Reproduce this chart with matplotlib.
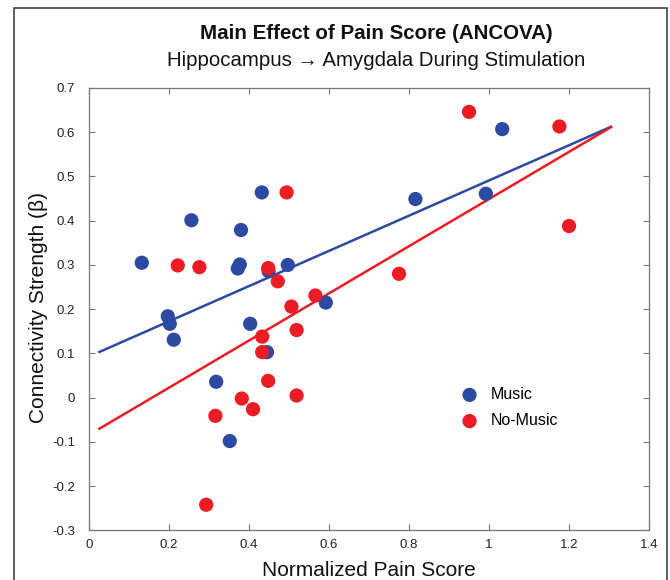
#==========================================
#   Efecto principal del dolor (ANCOVA)
#   Hipocampo -> Amigdala, estimulacion
#==========================================
import numpy as np
import matplotlib.pyplot as plt
from matplotlib.patches import Rectangle

plt.rcParams['font.family'] = ['Liberation Sans', 'DejaVu Sans']

#=======================
#   Datos: Music
#=======================
music_x = [0.132, 0.256, 0.432, 0.380, 0.377, 0.372, 0.497, 0.449, 0.592, 0.197,
           0.202, 0.403, 0.212, 0.445, 0.318, 0.352, 1.033, 0.816, 0.992]
music_y = [0.305, 0.401, 0.464, 0.379, 0.301, 0.292, 0.300, 0.286, 0.215, 0.184,
           0.167, 0.167, 0.131, 0.103, 0.036, -0.098, 0.607, 0.449, 0.461]

#=======================
#   Datos: No-Music
#=======================
nomusic_x = [0.494, 0.222, 0.276, 0.448, 0.472, 0.566, 0.506, 0.519, 0.433, 0.433,
             0.448, 0.519, 0.382, 0.410, 0.316, 0.293, 0.950, 1.176, 1.200, 0.775]
nomusic_y = [0.464, 0.299, 0.295, 0.293, 0.263, 0.231, 0.206, 0.153, 0.138, 0.103,
             0.038, 0.005, -0.002, -0.026, -0.041, -0.242, 0.646, 0.613, 0.388, 0.280]

# Rectas ajustadas (pendiente, intercepto) y rango en x
music_fit = (0.398, 0.093)
nomusic_fit = (0.533, -0.084)
fit_range = (0.026, 1.305)

azul = '#2c4aa1'
rojo = '#ec1c24'

fig = plt.figure(figsize=(6.7, 5.8), dpi=100)
ax = fig.add_axes([0.1328, 0.0855, 0.8359, 0.7628])

xx = np.array(fit_range)
ax.plot(xx, music_fit[0] * xx + music_fit[1], color=azul, lw=1.8, zorder=2)
ax.plot(xx, nomusic_fit[0] * xx + nomusic_fit[1], color=rojo, lw=1.8, zorder=2)
ax.scatter(music_x, music_y, s=105, color=azul, edgecolors='none', label='Music', zorder=3)
ax.scatter(nomusic_x, nomusic_y, s=105, color=rojo, edgecolors='none', label='No-Music', zorder=3)

ax.set_xlim(0, 1.4)
ax.set_ylim(-0.3, 0.7)
ax.set_xticks(np.arange(0, 1.41, 0.2))
ax.set_xticklabels(['0', '0.2', '0.4', '0.6', '0.8', '1', '1.2', '1.4'])
ax.set_yticks(np.arange(-0.3, 0.71, 0.1))
ax.set_yticklabels(['-0.3', '-0.2', '-0.1', '0', '0.1', '0.2', '0.3', '0.4', '0.5', '0.6', '0.7'])
ax.tick_params(direction='in', length=4, width=0.8, color='#777777', labelcolor='#222222',
               labelsize=9.5, top=True, right=True)
ax.tick_params(axis='x', pad=6)
ax.tick_params(axis='y', pad=10)
for sp in ax.spines.values():
    sp.set_color('#777777')
    sp.set_linewidth(0.9)

ax.legend(loc='upper left', bbox_to_anchor=(0.651, 0.342), frameon=False, fontsize=11.5,
          handlelength=1.0, handletextpad=0.8, borderpad=0, labelspacing=0.7,
          scatterpoints=1)

fig.text(0.561, 0.943, 'Main Effect of Pain Score (ANCOVA)', ha='center', va='center',
         fontsize=14.8, fontweight='bold', color='#111111')
fig.text(0.561, 0.896, 'Hippocampus \u2192 Amygdala During Stimulation', ha='center',
         va='center', fontsize=14.7, color='#111111')
fig.text(0.551, 0.017, 'Normalized Pain Score', ha='center', va='center', fontsize=15,
         color='#111111')
fig.text(0.058, 0.47, 'Connectivity Strength (\u03b2)', ha='center', va='center',
         rotation=90, fontsize=15, color='#111111')

# Marco exterior
fig.patches.append(Rectangle((0.021, -0.05), 0.9745, 1.036, transform=fig.transFigure,
                             fill=False, edgecolor='#444444', lw=1.2))

fig.savefig('out.png', dpi=100)
